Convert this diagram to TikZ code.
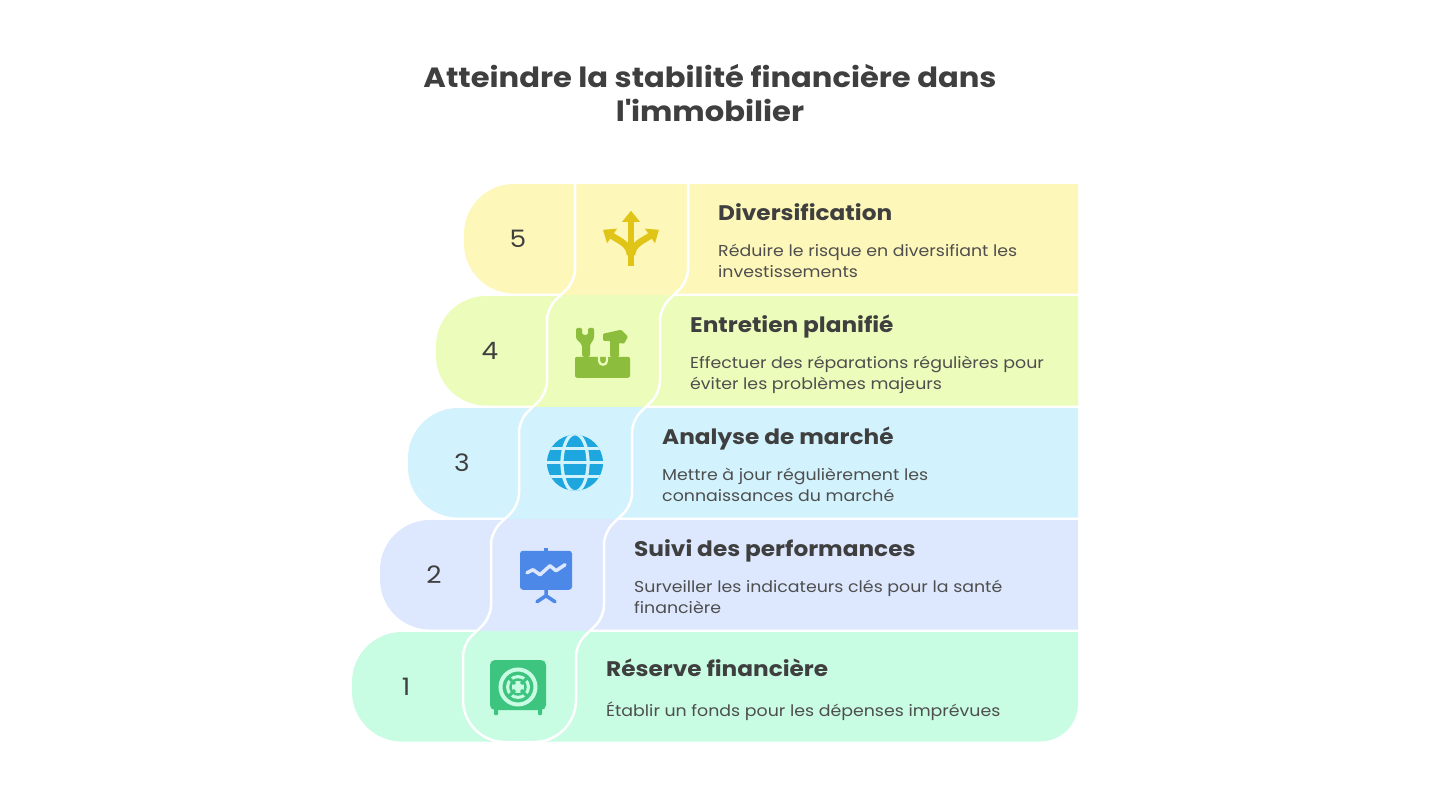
\documentclass[tikz,border=0pt]{standalone}
\usepackage{fontspec}
\setmainfont{Poppins}[FakeStretch=1.1]
\usetikzlibrary{arrows.meta}
\definecolor{r5}{HTML}{FEF7BA}
\definecolor{r4}{HTML}{ECFCBA}
\definecolor{r3}{HTML}{D2F3FD}
\definecolor{r2}{HTML}{DDE8FE}
\definecolor{r1}{HTML}{C8FCE3}
\definecolor{i5}{HTML}{E0C418}
\definecolor{i4}{HTML}{8CBD3C}
\definecolor{i3}{HTML}{1EA6DE}
\definecolor{i2}{HTML}{4C88E8}
\definecolor{i1}{HTML}{3DC47E}
\definecolor{txt}{HTML}{3F3F3F}
\definecolor{dtxt}{HTML}{4E4E4E}
\tikzset{
  head/.style={anchor=base west, inner sep=0pt, font=\fontsize{21.1}{26}\selectfont\bfseries, text=txt},
  desc/.style={anchor=base west, inner sep=0pt, font=\fontsize{15.8}{20}\selectfont, text=dtxt},
  num/.style={inner sep=0pt, font=\fontsize{24}{28}\selectfont, text=txt},
  ttl/.style={anchor=base, inner sep=0pt, font=\fontsize{27.8}{32}\selectfont\bfseries, text=txt},
  sepline/.style={white, line width=2.5pt},
}
\begin{document}
\begin{tikzpicture}[x=1pt,y=-1pt]
\useasboundingbox (0,0) rectangle (1434,800);
\fill[white] (0,0) rectangle (1434,800);
% rows 5..2
\foreach \i/\col in {5/r5,4/r4,3/r3,2/r2} {
  \pgfmathsetmacro\L{352+28*(\i-1)}
  \pgfmathsetmacro\T{184+112*(5-\i)}
  \pgfmathsetmacro\B{\T+109.5}
  \fill[\col] (1078,\T) -- ({\L+50},\T) arc[start angle=-90,end angle=-180,radius=50]
     -- (\L,{\B-50}) arc[start angle=180,end angle=90,radius=50] -- (1078,\B) -- cycle;
}
% row 1
\fill[r1] (1078,632) -- (402,632) arc[start angle=-90,end angle=-180,radius=50]
   -- (352,691.5) arc[start angle=180,end angle=90,radius=50] -- (1040,741.5)
   arc[start angle=90,end angle=0,radius=38] -- cycle;
% column fills across gaps
\foreach \i/\up/\dn in {4/r5/r4,3/r4/r3,2/r3/r2,1/r2/r1} {
  \pgfmathsetmacro\C{463+28*(\i-1)}
  \pgfmathsetmacro\T{184+112*(5-\i)}
  \fill[\up] ({\C+14},{\T-3}) rectangle ({\C+127},{\T-1.25});
  \fill[\dn] ({\C+14},{\T-1.25}) rectangle ({\C+127},{\T+0.5});
}
% column outline
\draw[sepline, rounded corners=12pt] (575,184) -- (575,281.25) -- (547,308.25) -- (547,393.25)
  -- (519,420.25) -- (519,505.25) -- (491,532.25) -- (491,617.25) -- (463,644.25) -- (463,700);
\draw[sepline] (463,700) arc[start angle=180,end angle=90,radius=42] -- (534,742)
  arc[start angle=90,end angle=0,radius=42];
\draw[sepline, rounded corners=12pt] (576,700) -- (576,644.25) -- (604,617.25) -- (604,532.25)
  -- (632,505.25) -- (632,420.25) -- (660,393.25) -- (660,308.25) -- (688,281.25) -- (688,184);
% title
\node[ttl] (t1) at (710,87) {Atteindre la stabilité financière dans};
\node[ttl] (t2) at (710,121) {l\textquotesingle immobilier};
% numbers
\node[num] (n5) at (518,238.75) {5};
\node[num] (n4) at (490,350.75) {4};
\node[num] (n3) at (462,462.75) {3};
\node[num] (n2) at (434,574.75) {2};
\node[num] (n1) at (406,686.75) {1};
% texts
\node[head] (h5) at (718,220) {Diversification};
\node[desc] (d5a) at (718,256) {Réduire le risque en diversifiant les};
\node[desc] (d5b) at (718,277) {investissements};
\node[head] (h4) at (690,332) {Entretien planifié};
\node[desc] (d4a) at (690,368) {Effectuer des réparations régulières pour};
\node[desc] (d4b) at (690,389) {éviter les problèmes majeurs};
\node[head] (h3) at (662,444) {Analyse de marché};
\node[desc] (d3a) at (662,480) {Mettre à jour régulièrement les};
\node[desc] (d3b) at (662,501) {connaissances du marché};
\node[head] (h2) at (634,556) {Suivi des performances};
\node[desc] (d2a) at (634,592) {Surveiller les indicateurs clés pour la santé};
\node[desc] (d2b) at (634,613) {financière};
\node[head] (h1) at (606,676) {Réserve financière};
\node[desc] (d1a) at (606,716) {Établir un fonds pour les dépenses imprévues};
% icon 5 : arrows
\begin{scope}[shift={(631,238.75)}, i5, line width=6.5pt]
  \draw[-{Triangle[width=17pt,length=11pt]}] (0,27) -- (0,-28);
  \draw[-{Triangle[width=17pt,length=11pt]}] (-1,16) .. controls (-2,5) and (-12,2) .. (-28,-9);
  \draw[-{Triangle[width=17pt,length=11pt]}] (1,16) .. controls (2,5) and (12,2) .. (28,-9);
\end{scope}
% icon 4 : toolbox
\begin{scope}[shift={(603,350.75)}]
  \fill[i4, rounded corners=2pt] (-28,6) rectangle (27,27);
  \draw[r4, line width=2.2pt] (-4,5) -- (-4,10) arc[start angle=180,end angle=0,radius=4] -- (4,5);
  \fill[i4, rounded corners=1.5pt] (-27,-23) -- (-21,-23) -- (-21,-16) -- (-15,-16) -- (-15,-23)
    -- (-9,-23) -- (-9,-12) -- (-13,-6) -- (-13,6) -- (-21,6) -- (-21,-6) -- (-27,-12) -- cycle;
  \fill[i4, rounded corners=1pt] (0,-17) -- (18,-21) -- (25,-14) -- (21,-7) -- (16,-8) -- (16,6)
    -- (7,6) -- (7,-10) -- (0,-10) -- cycle;
\end{scope}
% icon 3 : globe
\begin{scope}[shift={(575,462.75)}]
  \fill[i3] (0,0) circle[radius=28];
  \begin{scope}
    \clip (0,0) circle[radius=28];
    \draw[r3, line width=3.2pt] (0,0) ellipse[x radius=13, y radius=29];
    \draw[r3, line width=3.2pt] (-30,-14) -- (30,-14) (-30,0) -- (30,0) (-30,14) -- (30,14);
  \end{scope}
\end{scope}
% icon 2 : board
\begin{scope}[shift={(546,574.75)}]
  \fill[i2, rounded corners=3pt] (-26,-24) rectangle (26,15);
  \fill[i2] (-2,-27) rectangle (2,-23);
  \draw[r2, line width=3.5pt, line cap=round, line join=round] (-19,-2) -- (-13,-5) -- (-6,0) -- (4,-9) -- (10,-4) -- (19,-10);
  \draw[i2, line width=3.5pt, line cap=round, line join=round] (0,14) -- (0,21) (-9,27) -- (0,21) -- (9,27);
\end{scope}
% icon 1 : safe
\begin{scope}[shift={(518,686)}]
  \fill[i1, rounded corners=5pt] (-28,-26) rectangle (28,24);
  \fill[i1, rounded corners=1pt] (-24,20) rectangle (-20,29) (20,20) rectangle (24,29);
  \draw[r1, line width=4pt] (0,1) circle[radius=17.5];
  \fill[r1] (0,1) circle[radius=12];
  \draw[i1, line width=2.5pt] (0,1) circle[radius=7.5];
  \draw[i1, line width=3pt] (-9,-8) -- (9,10) (9,-8) -- (-9,10);
  \fill[r1] (0,1) circle[radius=4.5];
\end{scope}
\end{tikzpicture}
\end{document}
